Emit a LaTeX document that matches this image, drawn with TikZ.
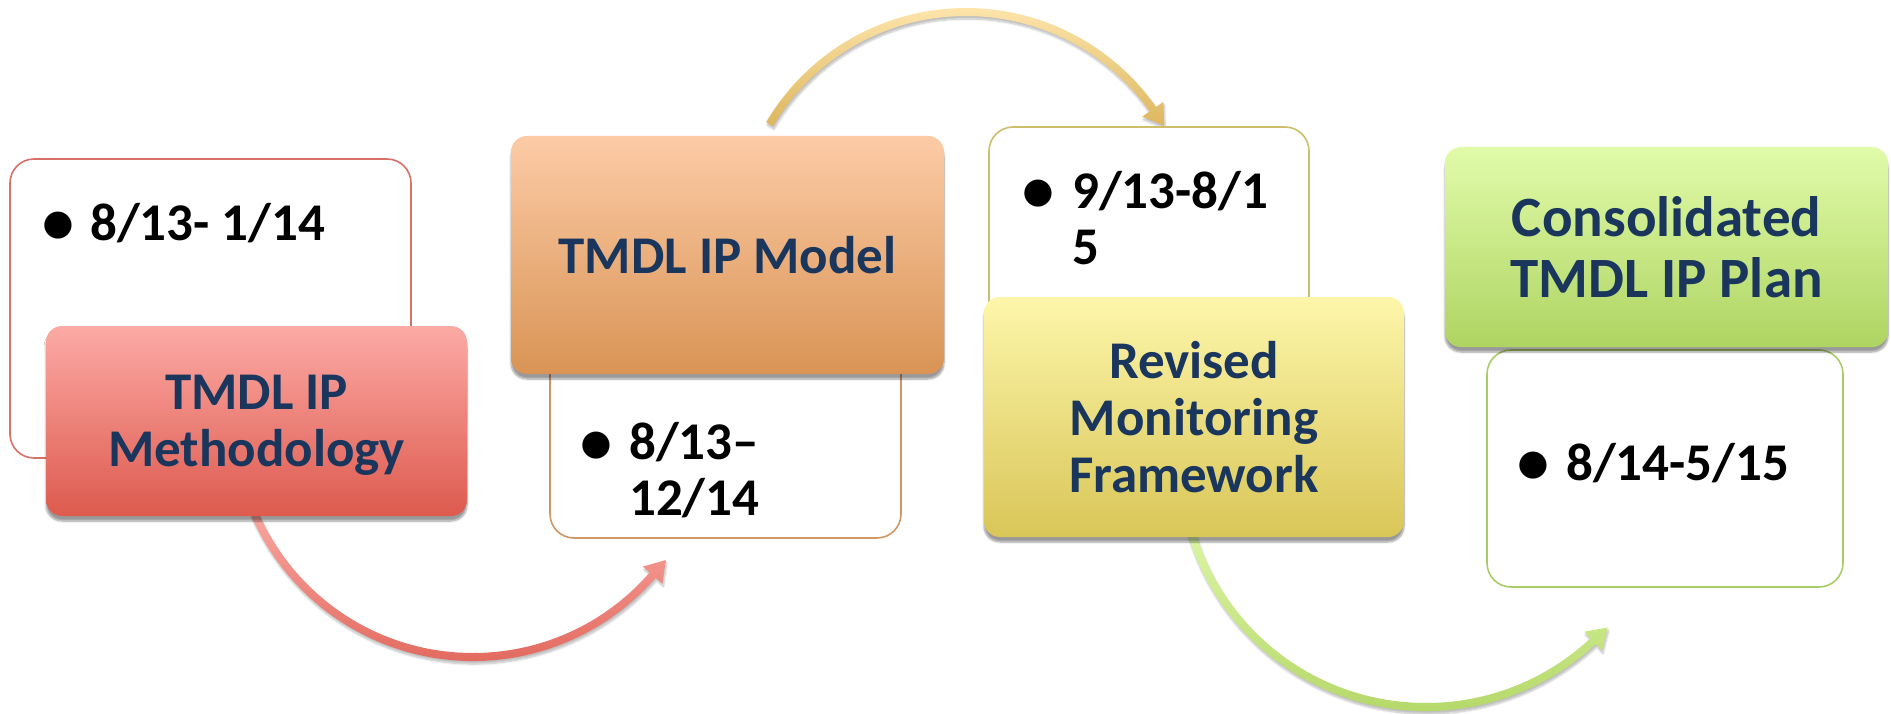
\documentclass[tikz,border=0pt]{standalone}
\usepackage{fontspec}
\setmainfont{Carlito}
\usetikzlibrary{calc,shadows,shadows.blur}
\definecolor{navy}{RGB}{26,54,93}
\definecolor{rA}{RGB}{252,170,165}\definecolor{rB}{RGB}{221,90,78}\definecolor{rL}{RGB}{214,112,104}
\definecolor{oA}{RGB}{252,203,166}\definecolor{oB}{RGB}{217,148,85}\definecolor{oL}{RGB}{208,150,100}
\definecolor{yA}{RGB}{253,246,170}\definecolor{yB}{RGB}{217,198,88}\definecolor{yL}{RGB}{205,190,105}
\definecolor{gA}{RGB}{225,251,170}\definecolor{gB}{RGB}{175,212,98}\definecolor{gL}{RGB}{168,204,104}
\definecolor{arA}{RGB}{250,168,163}\definecolor{arB}{RGB}{222,94,82}
\definecolor{aoA}{RGB}{253,228,170}\definecolor{aoB}{RGB}{221,183,95}
\definecolor{agA}{RGB}{220,247,165}\definecolor{agB}{RGB}{176,212,98}
\tikzset{
  note/.style={draw, line width=1.6pt, fill=white, rounded corners=24pt, inner sep=0pt},
  stage/.style={rounded corners=16pt, inner sep=0pt, text=navy, align=center,
    font=\fontsize{53}{57}\selectfont\bfseries, text depth=0pt,
    blur shadow={shadow xshift=0pt, shadow yshift=-5pt, shadow opacity=40, shadow blur steps=8}},
  datetxt/.style={inner sep=0pt, anchor=base west, font=\fontsize{53}{57}\selectfont\bfseries},
  bul/.style={inner sep=0pt, anchor=base, font=\fontsize{64}{68}\selectfont\bfseries},
  arrowshadow/.style={blur shadow={shadow xshift=1pt, shadow yshift=-3pt, shadow opacity=25, shadow blur steps=6}}
}
\begin{document}
\begin{tikzpicture}[x=1pt,y=-1pt]
\useasboundingbox (0,0) rectangle (1891,714);
% arc centres and arrow tips
\coordinate (c1) at (473,419);
\coordinate (c2) at (966,240);
\coordinate (c3) at (1426,462);
\coordinate (tip1) at ($(c1)+(41:238)+(-49:20)$);
\coordinate (tip2) at ($(c2)+(325:228)+(55:20)$);
\coordinate (tip3) at ($(c3)+(47:245)+(-43:20)$);
% curved arrows
\shade[arrowshadow, top color=arA, bottom color=arB]
  ($(c1)+(158:242)$) arc[start angle=158, end angle=41, radius=242]
  -- ($(c1)+(41:251)$) -- (tip1) -- ($(c1)+(41:225)$) -- ($(c1)+(41:234)$)
  arc[start angle=41, end angle=158, radius=234] -- cycle;
\shade[arrowshadow, top color=aoA, bottom color=aoB]
  ($(c2)+(210.5:232)$) arc[start angle=210.5, end angle=325, radius=232]
  -- ($(c2)+(325:241)$) -- (tip2) -- ($(c2)+(325:215)$) -- ($(c2)+(325:224)$)
  arc[start angle=325, end angle=210.5, radius=224] -- cycle;
\shade[arrowshadow, top color=agA, bottom color=agB]
  ($(c3)+(165:249)$) arc[start angle=165, end angle=47, radius=249]
  -- ($(c3)+(47:258)$) -- (tip3) -- ($(c3)+(47:232)$) -- ($(c3)+(47:241)$)
  arc[start angle=47, end angle=165, radius=241] -- cycle;
% group 1
\node[note, draw=rL, minimum width=401pt, minimum height=299pt] (n1) at (210.5,308.5) {};
\node[stage, top color=rA, bottom color=rB, minimum width=421pt, minimum height=190pt] (s1) at (256.5,421) {TMDL IP\\Methodology};
\node[bul] (b1) at (58,244) {•};
\node[datetxt] (d1) at (90,241) {8/13- 1/14};
% group 2
\node[note, draw=oL, minimum width=351pt, minimum height=288pt] (n2) at (725.5,394) {};
\node[stage, top color=oA, bottom color=oB, minimum width=433pt, minimum height=238pt] (s2) at (727.5,255) {TMDL IP Model};
\node[bul] (b2) at (596,463) {•};
\node[datetxt] (d2a) at (629,459) {8/13–};
\node[datetxt] (d2b) at (629,515) {12/14};
% group 3
\node[note, draw=yL, minimum width=320pt, minimum height=293pt] (n3) at (1149,273.5) {};
\node[stage, top color=yA, bottom color=yB, minimum width=420pt, minimum height=240pt] (s3) at (1194,417) {Revised\\Monitoring\\Framework};
\node[bul] (b3) at (1038,212) {•};
\node[datetxt] (d3a) at (1072,209) {9/13-8/1};
\node[datetxt] (d3b) at (1072,265) {5};
% group 4
\node[note, draw=gL, minimum width=356pt, minimum height=237pt] (n4) at (1665,468.5) {};
\node[stage, font=\fontsize{57}{61}\selectfont\bfseries, top color=gA, bottom color=gB, minimum width=443pt, minimum height=200pt] (s4) at (1666.5,247) {Consolidated\\TMDL IP Plan};
\node[bul] (b4) at (1533,483) {•};
\node[datetxt] (d4) at (1566,480) {8/14-5/15};
\end{tikzpicture}
\end{document}
